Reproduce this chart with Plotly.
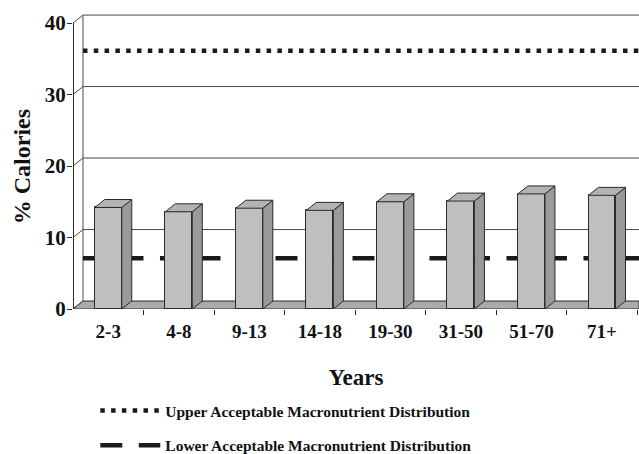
import plotly.graph_objects as go

# Age groups and mean protein intake (% of calories)
age_groups = ["2-3", "4-8", "9-13", "14-18", "19-30", "31-50", "51-70", "71+"]
protein_pct = [14.2, 13.6, 14.1, 13.8, 15.0, 15.1, 16.1, 15.9]

# Acceptable Macronutrient Distribution Range bounds (% calories)
upper_amdr = 35
lower_amdr = 6

y_ticks = [0, 10, 20, 30, 40]
y_top = 40

# Pseudo-3D geometry (axis units): depth offset of the back wall / bar depth
PX_X = 70.57          # pixels per category
PX_Y = 7.17           # pixels per % unit
DX = 10 / PX_X
DY = 8 / PX_Y
BAR_W = 27 / PX_X
X0, X1 = -0.5, -0.5 + 566.3 / PX_X
Y1 = y_top + DY + 0.15

plot_left = 72.7
plot_bottom = 309.5
H = 454
W = 639

idx = list(range(len(age_groups)))

FONT = "Liberation Serif"
GRID = "#4a4a4a"
EDGE = "#2a2a2a"

shapes = []

# floor slab
shapes.append(dict(type="path", xref="x", yref="y", layer="below",
                   path=f"M{X0},0 L{X0+DX},{DY} L{X1},{DY} L{X1},0 Z",
                   fillcolor="#ababab", line=dict(color=EDGE, width=1)))
# back wall left edge
shapes.append(dict(type="line", xref="x", yref="y", layer="below",
                   x0=X0 + DX, x1=X0 + DX, y0=DY, y1=y_top + DY,
                   line=dict(color=GRID, width=1)))
# back wall gridlines and side-wall connectors
for v in y_ticks:
    if v > 0:
        shapes.append(dict(type="line", xref="x", yref="y", layer="below",
                           x0=X0 + DX, x1=X1, y0=v + DY, y1=v + DY,
                           line=dict(color=GRID, width=1)))
    shapes.append(dict(type="line", xref="x", yref="y", layer="below",
                       x0=X0, x1=X0 + DX, y0=v, y1=v + DY,
                       line=dict(color=GRID, width=1)))
# front value axis
shapes.append(dict(type="line", xref="x", yref="y", layer="below",
                   x0=X0, x1=X0, y0=0, y1=y_top,
                   line=dict(color=EDGE, width=2)))

# bar side and top faces
for i, v in zip(idx, protein_pct):
    xl, xr = i - BAR_W / 2, i + BAR_W / 2
    shapes.append(dict(type="path", xref="x", yref="y", layer="above",
                       path=f"M{xr},0 L{xr+DX},{DY} L{xr+DX},{v+DY} L{xr},{v} Z",
                       fillcolor="#9a9a9a", line=dict(color=EDGE, width=1)))
    shapes.append(dict(type="path", xref="x", yref="y", layer="above",
                       path=f"M{xl},{v} L{xl+DX},{v+DY} L{xr+DX},{v+DY} L{xr},{v} Z",
                       fillcolor="#b3b3b3", line=dict(color=EDGE, width=1)))

fig = go.Figure()

fig.add_trace(go.Scatter(
    x=[X0 + DX, X1], y=[upper_amdr + DY] * 2, mode="lines",
    name="Upper Acceptable Macronutrient Distribution",
    line=dict(color="#1a1a1a", width=4.5, dash="4.5px,6.3px"),
    legend="legend", hoverinfo="skip", zorder=0))
fig.add_trace(go.Scatter(
    x=[X0 + DX, X1], y=[lower_amdr + DY] * 2, mode="lines",
    name="Lower Acceptable Macronutrient Distribution",
    line=dict(color="#1a1a1a", width=4.5, dash="22px,16.5px"),
    legend="legend2", hoverinfo="skip", zorder=0))

fig.add_trace(go.Bar(
    x=idx, y=protein_pct, width=BAR_W, zorder=1,
    marker=dict(color="#bfbfbf", line=dict(color=EDGE, width=1)),
    showlegend=False, hoverinfo="skip"))

pw = W - plot_left
ph = Y1 * PX_Y
top = plot_bottom - ph

legend_font = dict(family=FONT, size=15.5, color="#111", weight="bold")


def py(pix):
    return (plot_bottom - pix) / ph


def px(pix):
    return (pix - plot_left) / pw


fig.update_layout(
    width=W, height=H,
    margin=dict(l=plot_left, r=0, t=top, b=H - plot_bottom, pad=0, autoexpand=False),
    paper_bgcolor="white", plot_bgcolor="white",
    shapes=shapes,
    xaxis=dict(range=[X0, X1], tickmode="array", tickvals=idx, ticktext=age_groups,
               ticks="", showgrid=False, zeroline=False,
               showline=True, linecolor=EDGE, linewidth=1,
               ticklabelstandoff=5,
               minor=dict(tickmode="array", tickvals=[i + 0.5 for i in idx],
                          ticks="outside", ticklen=5, tickcolor=EDGE, showgrid=False),
               tickfont=dict(family=FONT, size=19, color="#111", weight="bold"),
               title=dict(text="Years", standoff=28,
                          font=dict(family=FONT, size=23, color="#111", weight="bold"))),
    yaxis=dict(range=[0, Y1], tickmode="array", tickvals=y_ticks,
               ticks="outside", ticklen=5, tickcolor=EDGE,
               showgrid=False, zeroline=False, showline=False,
               ticklabelstandoff=-3,
               tickfont=dict(family=FONT, size=21, color="#111", weight="bold")),
    annotations=[dict(text="% Calories", textangle=-90, showarrow=False,
                      xref="paper", yref="paper", x=px(22), y=py(167),
                      xanchor="center", yanchor="middle",
                      font=dict(family=FONT, size=24, color="#111", weight="bold"))],
    legend=dict(x=px(95), y=py(411.7), xanchor="left", yanchor="middle",
                font=legend_font, itemwidth=60, bgcolor="rgba(0,0,0,0)"),
    legend2=dict(x=px(95), y=py(446.7), xanchor="left", yanchor="middle",
                 font=legend_font, itemwidth=60, bgcolor="rgba(0,0,0,0)"),
    bargap=0,
)

fig.write_html("out.html")
